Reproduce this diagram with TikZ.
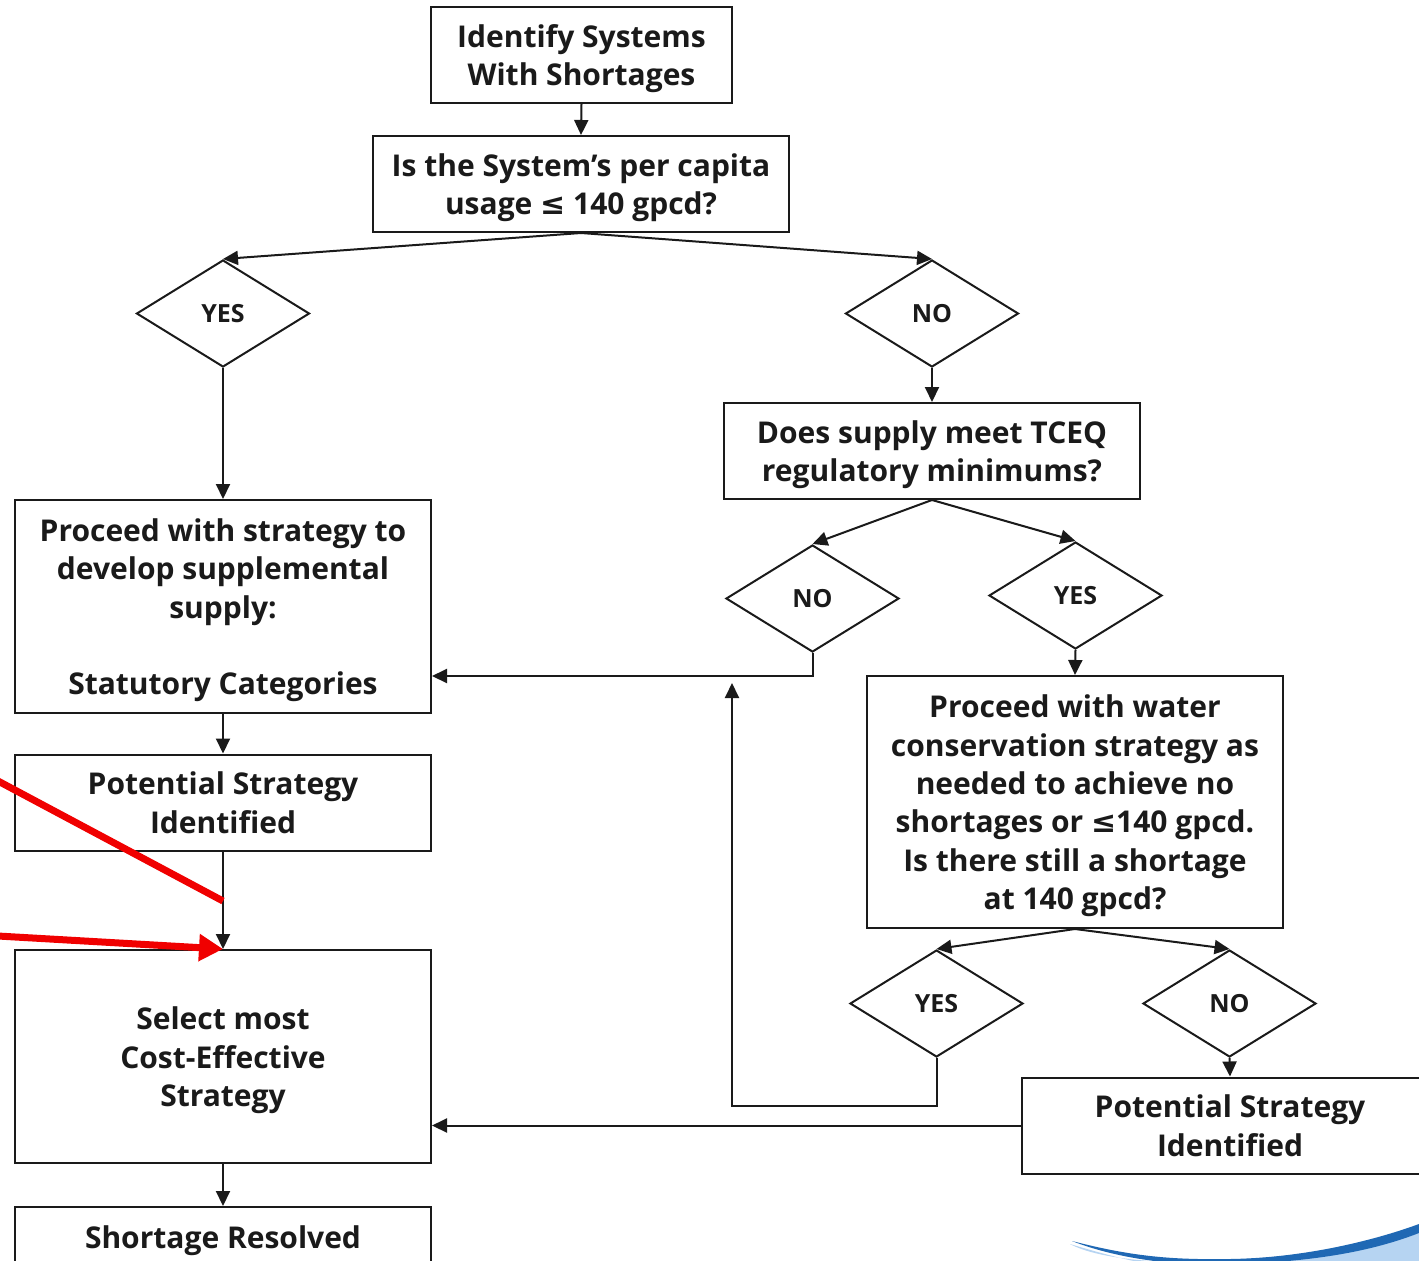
\documentclass[tikz,border=0pt]{standalone}
\usepackage{fontspec}
\setmainfont{Open Sans}
\newfontfamily\symfont{DejaVu Sans}
\newcommand{\leqsym}{{\symfont\bfseries ≤}}
% box text: centred lines, drawn a little lower than the box's centre line
\newcommand{\boxtext}[1]{\raisebox{-4pt}[\height][\depth]{%
  \begin{tabular}{@{}c@{}}#1\end{tabular}}}
\usetikzlibrary{shapes.geometric,arrows.meta}
\definecolor{ink}{HTML}{1A1A1A}
\definecolor{swooshdark}{HTML}{1F68B4}
\definecolor{swooshlight}{HTML}{B6D4F2}
\definecolor{alertred}{HTML}{F00000}
\begin{document}
\begin{tikzpicture}[x=1pt,y=-1pt,
  box/.style={draw=ink, line width=2pt, rectangle, minimum width=416pt,
    minimum height=96pt, inner sep=0pt, text=ink,
    font=\fontsize{30}{38.4}\selectfont\bfseries},
  dec/.style={draw=ink, line width=2pt, diamond, minimum width=173pt,
    minimum height=107pt, inner sep=0pt, text=ink,
    font=\fontsize{25}{30}\selectfont\bfseries},
  arr/.style={draw=ink, line width=2pt, -{Triangle[length=15pt,width=14pt]}},
  redline/.style={draw=alertred, line width=7pt},
  redarr/.style={draw=alertred, line width=7pt, -{Triangle[length=24pt,width=26pt]}}]
\clip (0,0) rectangle (1419,1261);
\fill[white] (0,0) rectangle (1419,1261);

% decision boxes and steps
\node[box, minimum width=301pt] (ident) at (581.5,55) {\boxtext{Identify Systems\\With Shortages}};
\node[box] (q1) at (581,184) {\boxtext{Is the System’s per capita\\usage \leqsym{} 140 gpcd?}};
\node[dec] (y1) at (223,313.5) {YES};
\node[dec] (n1) at (932,313.5) {NO};
\node[box] (tceq) at (932,451) {\boxtext{Does supply meet TCEQ\\regulatory minimums?}};
\node[box, minimum height=213pt] (supp) at (223,606.5)
  {\boxtext{Proceed with strategy to\\develop supplemental\\supply:\\ \\Statutory Categories}};
\node[dec] (n2) at (812.5,598.5) {NO};
\node[dec] (y2) at (1075.5,595.5) {YES};
\node[box, minimum height=252pt] (cons) at (1075,802)
  {\boxtext{Proceed with water\\conservation strategy as\\needed to achieve no\\shortages or \leqsym140 gpcd.\\Is there still a shortage\\at 140 gpcd?}};
\node[dec] (y3) at (936.5,1003.5) {YES};
\node[dec] (n3) at (1229.5,1003.5) {NO};
\node[box] (pot2) at (1230,1125.5) {\boxtext{Potential Strategy\\Identified}};
\node[box] (pot1) at (223,802.5) {\boxtext{Potential Strategy\\Identified}};
\node[box, minimum height=213pt] (sel) at (223,1056.5) {\boxtext{Select most\\Cost-Effective\\Strategy}};
\node[box, minimum height=60pt] (res) at (223,1237) {\boxtext{Shortage Resolved}};

% connectors
\draw[arr] (ident.south) -- (q1.north);
\draw[arr] (q1.south) -- (y1.north);
\draw[arr] (q1.south) -- (n1.north);
\draw[arr] (n1.south) -- (tceq.north);
\draw[arr] (y1.south) -- (supp.north);
\draw[arr] (tceq.south) -- (n2.north);
\draw[arr] (tceq.south) -- (y2.north);
\draw[arr] (n2.south) |- ([yshift=-69.5pt]supp.east);
\draw[arr] (y2.south) -- (cons.north);
\draw[arr] (cons.south) -- (y3.north);
\draw[arr] (cons.south) -- (n3.north);
\coordinate (loopend) at (732,683);
\draw[arr] (y3.south) -- ++(0,48) -| (loopend);
\draw[arr] (n3.south) -- (pot2.north);
\draw[arr] (pot2.west) -- (sel.east |- pot2.west);
\draw[arr] (supp.south) -- (pot1.north);
\draw[arr] (pot1.south) -- (sel.north);
\draw[arr] (sel.south) -- (res.north);

% red markers
\coordinate (r1a) at (-2,781);
\coordinate (r1b) at (223,901);
\draw[redline] (r1a) -- (r1b);
\coordinate (r2a) at (-2,936);
\draw[redarr] (r2a) -- (sel.north);

% corner swoosh
\fill[swooshlight] (1070,1244) .. controls (1130,1262) and (1160,1268) .. (1200,1268)
  -- (1419,1268) -- (1419,1232) .. controls (1330,1258) and (1220,1262) .. (1150,1261)
  .. controls (1110,1258) and (1085,1252) .. (1070,1244) -- cycle;
\fill[swooshdark] (1072,1241) .. controls (1130,1256) and (1170,1260) .. (1230,1259)
  .. controls (1300,1258) and (1370,1242) .. (1419,1224) -- (1419,1233)
  .. controls (1360,1256) and (1290,1264) .. (1200,1265)
  .. controls (1140,1262) and (1100,1252) .. (1072,1241) -- cycle;
\end{tikzpicture}
\end{document}
